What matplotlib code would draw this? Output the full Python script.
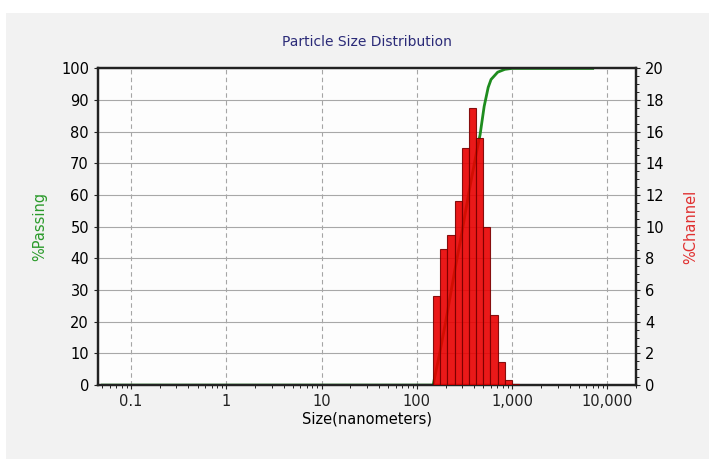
import numpy as np
import matplotlib
matplotlib.use("Agg")
import matplotlib.pyplot as plt
from matplotlib.ticker import FixedLocator, LogLocator, NullFormatter, MultipleLocator
from matplotlib.patches import Rectangle

# channel edges (nm) and %channel per bar
edges = [148.0, 176.0, 209.3, 248.9, 296.0, 352.0, 418.6, 497.8, 592.0, 704.0, 837.2, 995.6, 1184.0]
channel = [5.6, 8.6, 9.5, 11.6, 15.0, 17.5, 15.6, 10.0, 4.4, 1.45, 0.3, 0.05]

# cumulative %passing curve
pass_size = [0.05, 148, 176, 209, 249, 296, 352, 419, 460, 508, 560, 600, 704, 837, 996, 7000]
pass_val = [0, 0, 11, 23, 36, 48, 61, 73, 79, 88, 94, 96.5, 98.8, 99.7, 100, 100]

xticks = [0.1, 1, 10, 100, 1000, 10000]
xlabels = ["0.1", "1", "10", "100", "1,000", "10,000"]

fig = plt.figure(figsize=(7.1, 4.59), dpi=100)
fig.patch.set_facecolor("white")
# grey panel behind the chart
fig.patches.append(Rectangle((0.008, 0.0), 0.99, 0.972, transform=fig.transFigure,
                             facecolor="#f2f2f2", edgecolor="none", zorder=-10))

ax = fig.add_axes([0.138, 0.161, 0.758, 0.690])
ax.set_facecolor("#fdfdfd")
ax.set_xscale("log")
ax.set_xlim(0.045, 20000)
ax.set_ylim(0, 100)

ax.xaxis.set_major_locator(FixedLocator(xticks))
ax.set_xticklabels(xlabels)
ax.xaxis.set_minor_locator(LogLocator(base=10, subs=np.arange(2, 10)))
ax.xaxis.set_minor_formatter(NullFormatter())
ax.yaxis.set_major_locator(MultipleLocator(10))

ax.grid(True, which="major", axis="x", color="#a5a5a5", linestyle=(0, (4, 3)), linewidth=0.8)
ax.grid(True, which="major", axis="y", color="#a8a8a8", linestyle="-", linewidth=0.8)
ax.set_axisbelow(True)

ax.plot(pass_size, pass_val, color="#1e8c1e", linewidth=2, zorder=2)

ax2 = ax.twinx()
ax2.set_ylim(0, 20)
ax2.yaxis.set_major_locator(MultipleLocator(2))
ax2.yaxis.set_minor_locator(MultipleLocator(0.5))
ax2.bar(edges[:-1], channel, width=np.diff(edges), align="edge",
        color="#e80000", edgecolor="#7a0000", linewidth=0.8, alpha=0.9, zorder=3)

for a in (ax, ax2):
    for s in a.spines.values():
        s.set_color("#222222")
        s.set_linewidth(1.6)
    a.tick_params(labelsize=10.5, colors="#222222", length=3, width=0.8)
    a.tick_params(which="minor", length=2, width=0.6)
ax.tick_params(axis="y", labelcolor="black")
ax2.tick_params(axis="y", labelcolor="black")

ax.set_xlabel("Size(nanometers)", fontsize=10.5, labelpad=2)
ax.set_ylabel("%Passing", fontsize=10.5, color="#2a9a2a", labelpad=10)
ax2.set_ylabel("%Channel", fontsize=10.5, color="#e03030", labelpad=14)
ax.set_title("Particle Size Distribution", fontsize=10, color="#2b2b78", pad=16)

fig.savefig("out.png", dpi=100)
